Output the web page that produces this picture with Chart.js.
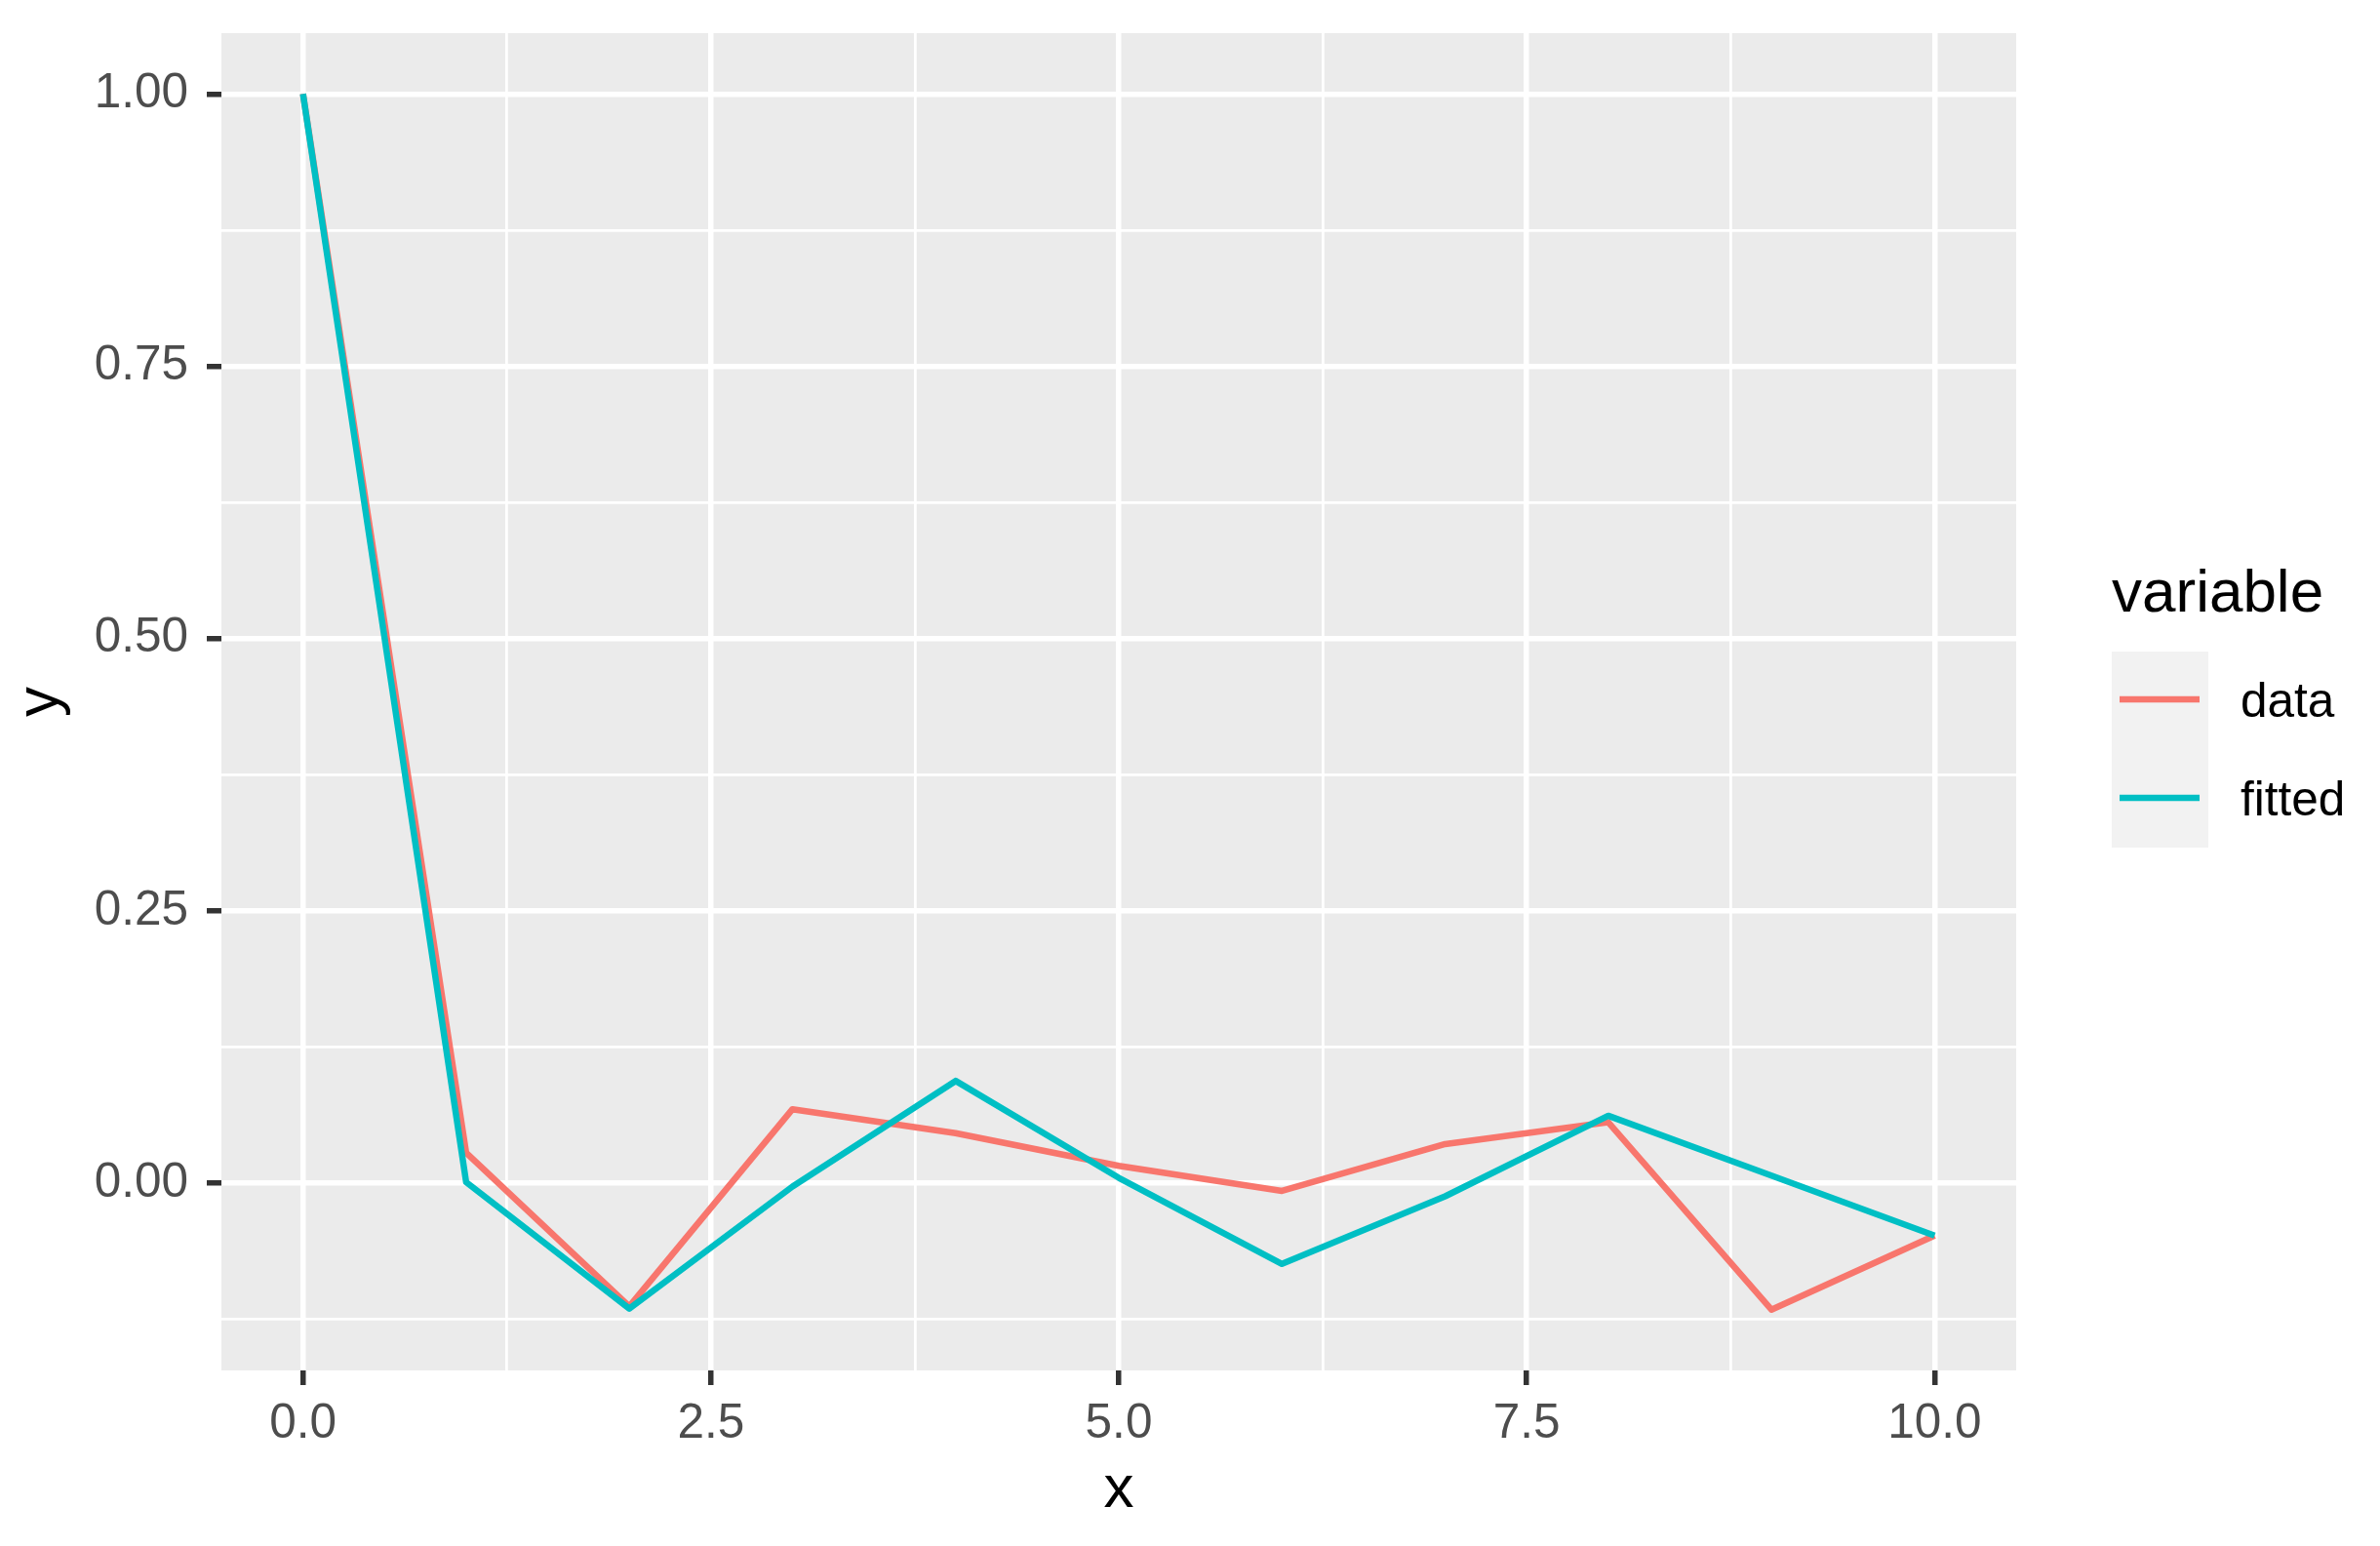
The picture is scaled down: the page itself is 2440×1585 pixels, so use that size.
<!DOCTYPE html>
<html>
<head>
<meta charset="utf-8">
<title>data vs fitted</title>
<script src="https://cdn.jsdelivr.net/npm/chart.js@4.4.1/dist/chart.umd.min.js"></script>
<style>
  html, body { margin: 0; padding: 0; background: #fff; }
  #wrap { width: 2440px; height: 1585px; }
</style>
</head>
<body>
<div id="wrap"><canvas id="chart" width="2440" height="1585"></canvas></div>
<script>
// ── Valores ───────────────────────────────────────────────────────
const xValues    = [0, 1, 2, 3, 4, 5, 6, 7, 8, 9, 10];
const dataVals   = [1.0, 0.028, -0.113, 0.068, 0.046, 0.016, -0.007, 0.036, 0.056, -0.116, -0.048];
const fittedVals = [1.0, 0.001, -0.115, -0.003, 0.094, 0.005, -0.074, -0.012, 0.062, 0.007, -0.048];

const xMajorTicks = [0, 2.5, 5, 7.5, 10];
const xMinorTicks = [1.25, 3.75, 6.25, 8.75];
const yMajorTicks = [0, 0.25, 0.5, 0.75, 1];
const yMinorTicks = [-0.125, 0.125, 0.375, 0.625, 0.875];

const seriesNames  = ['data', 'fitted'];
const seriesColors = ['#F8766D', '#00BFC4'];
const legendTitle  = 'variable';

const FONT = "'Liberation Sans', Arial, Helvetica, sans-serif";
Chart.defaults.font.family = FONT;

const GRID_W = 5.5;
const LINE_W = 6.5;

function isMajor(list, ctx) {
  return !!(ctx && ctx.tick && list.includes(ctx.tick.value));
}

function allTicks(major, minor) {
  return [...major, ...minor].sort((a, b) => a - b).map(v => ({ value: v }));
}

// fondo gris del panel (estilo ggplot)
const panelBg = {
  id: 'panelBg',
  beforeDraw(chart) {
    const { ctx, chartArea: a } = chart;
    ctx.save();
    ctx.fillStyle = '#EBEBEB';
    ctx.fillRect(a.left, a.top, a.right - a.left, a.bottom - a.top);
    ctx.restore();
  }
};

// leyenda a la derecha, dibujada a mano
const sideLegend = {
  id: 'sideLegend',
  afterDraw(chart) {
    const ctx = chart.ctx;
    ctx.save();
    ctx.fillStyle = '#000';
    ctx.textBaseline = 'alphabetic';
    ctx.textAlign = 'left';
    ctx.font = `62px ${FONT}`;
    ctx.fillText(legendTitle, 2165, 627);

    ctx.fillStyle = '#F2F2F2';
    ctx.fillRect(2165, 668, 99, 201);

    seriesNames.forEach((name, i) => {
      const y = 717 + i * 101;
      ctx.strokeStyle = seriesColors[i];
      ctx.lineWidth = LINE_W;
      ctx.beginPath();
      ctx.moveTo(2173, y);
      ctx.lineTo(2255, y);
      ctx.stroke();
      ctx.fillStyle = '#000';
      ctx.font = `49.5px ${FONT}`;
      ctx.fillText(name, 2297, y + 18);
    });
    ctx.restore();
  }
};

const datasets = seriesNames.map((name, i) => ({
  label: name,
  data: xValues.map((x, k) => ({ x, y: (i === 0 ? dataVals : fittedVals)[k] })),
  borderColor: seriesColors[i],
  backgroundColor: seriesColors[i],
  borderWidth: LINE_W,
  borderJoinStyle: 'round',
  pointRadius: 0,
  tension: 0,
  fill: false,
  order: i === 0 ? 2 : 1
}));

new Chart(document.getElementById('chart'), {
  type: 'line',
  data: { datasets },
  plugins: [panelBg, sideLegend],
  options: {
    responsive: false,
    animation: false,
    devicePixelRatio: 1,
    layout: { padding: { left: 0, top: 34, right: 373, bottom: 0 } },
    plugins: {
      legend: { display: false },
      tooltip: { enabled: false }
    },
    scales: {
      x: {
        type: 'linear',
        min: -0.5,
        max: 10.5,
        afterBuildTicks: s => { s.ticks = allTicks(xMajorTicks, xMinorTicks); },
        afterFit: s => { s.height = 180; s.paddingLeft = 0; s.paddingRight = 0; },
        border: { display: false },
        grid: {
          color: '#FFFFFF',
          lineWidth: c => isMajor(xMajorTicks, c) ? GRID_W : GRID_W / 2,
          tickColor: c => isMajor(xMajorTicks, c) ? '#333333' : 'rgba(0,0,0,0)',
          tickWidth: GRID_W,
          tickLength: 15,
          drawTicks: true
        },
        ticks: {
          autoSkip: false,
          maxRotation: 0,
          padding: 11,
          color: '#4D4D4D',
          font: { size: 49.5 },
          callback: v => xMajorTicks.includes(v) ? v.toFixed(1) : ''
        },
        title: { display: true, text: 'x', color: '#000', font: { size: 62 }, padding: { top: 0, bottom: 20 } }
      },
      y: {
        type: 'linear',
        min: -0.1718,
        max: 1.0558,
        afterBuildTicks: s => { s.ticks = allTicks(yMajorTicks, yMinorTicks); },
        afterFit: s => { s.width = 227; s.paddingTop = 0; s.paddingBottom = 0; },
        border: { display: false },
        grid: {
          color: '#FFFFFF',
          lineWidth: c => isMajor(yMajorTicks, c) ? GRID_W : GRID_W / 2,
          tickColor: c => isMajor(yMajorTicks, c) ? '#333333' : 'rgba(0,0,0,0)',
          tickWidth: GRID_W,
          tickLength: 15,
          drawTicks: true
        },
        ticks: {
          autoSkip: false,
          padding: 19,
          color: '#4D4D4D',
          font: { size: 49.5 },
          callback: v => yMajorTicks.includes(v) ? v.toFixed(2) : ''
        },
        title: { display: true, text: 'y', color: '#000', font: { size: 62 }, padding: { top: 5, bottom: 0 } }
      }
    }
  }
});
</script>
</body>
</html>
